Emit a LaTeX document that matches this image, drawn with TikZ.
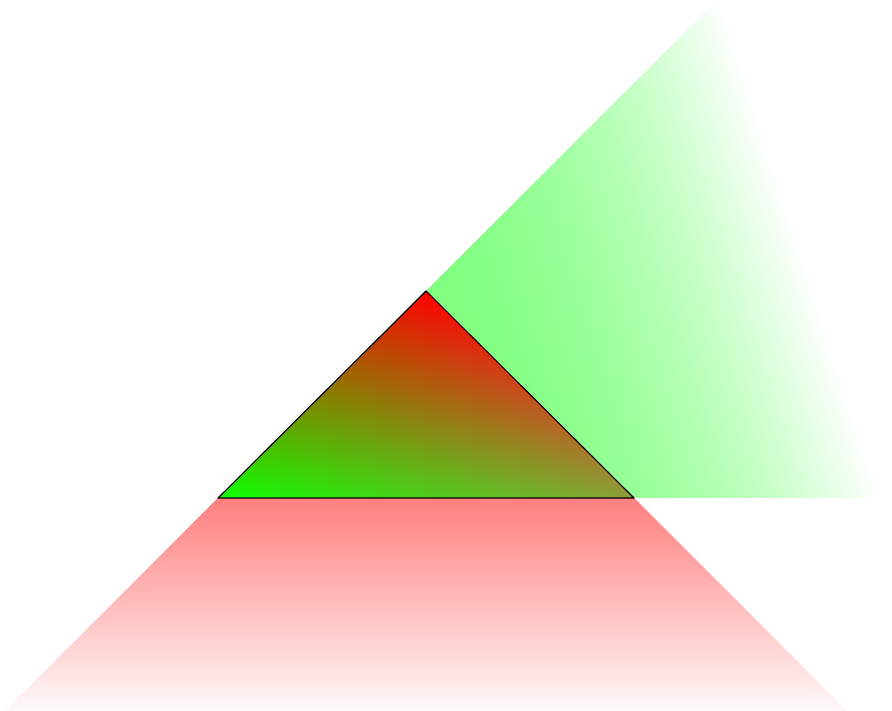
\documentclass[tikz,border=0pt]{standalone}
% triangle: barycentric colours A red, B green, C olive
\pgfdeclarefunctionalshading{trishade}{\pgfpointorigin}{\pgfpoint{892bp}{711bp}}{}{
  213 sub 207 div exch 218 sub 1 index 208 mul sub 416 div
  1 index 0.95 mul 1 index 0.5 mul add 0.05 add
  2 index neg 1 add 2 index 0.38 mul sub
  2 index 0.22 mul
  5 3 roll pop pop
}
% green wedge: fades to white towards the right
\pgfdeclarefunctionalshading{greenshade}{\pgfpointorigin}{\pgfpoint{892bp}{711bp}}{}{
  420 sub 0.32 mul exch 426 sub add 388 div
  dup 0 lt {pop 0} if dup 1 gt {pop 1} if
  1.7 exp 0.5 mul 0.5 add dup 1 exch
}
% red trapezoid: fades to white downwards
\pgfdeclarefunctionalshading{redshade}{\pgfpointorigin}{\pgfpoint{892bp}{711bp}}{}{
  exch pop 213 exch sub 223 div
  dup 0 lt {pop 0} if dup 1 gt {pop 1} if
  0.5 mul 0.5 add 1 exch dup
}
\tikzset{
  shadebox/.style={inner sep=0pt, outer sep=0pt, anchor=south west},
  edgeline/.style={draw=black, line width=1.1bp, line join=round}
}
\begin{document}
\begin{tikzpicture}[x=1bp,y=1bp]
\useasboundingbox (0,0) rectangle (892,711);
\coordinate (A) at (426,420);
\coordinate (B) at (218,213);
\coordinate (C) at (634,213);
\coordinate (G1) at (717,711);
\coordinate (G2) at (892,711);
\coordinate (G3) at (892,213);
\coordinate (R1) at (847,0);
\coordinate (R2) at (5,0);
% red trapezoid
\begin{scope}
  \clip (B) -- (C) -- (R1) -- (R2) -- cycle;
  \node[shadebox] (redfill) at (0,0) {\pgfuseshading{redshade}};
\end{scope}
% green wedge
\begin{scope}
  \clip (A) -- (G1) -- (G2) -- (G3) -- (C) -- cycle;
  \node[shadebox] (greenfill) at (0,0) {\pgfuseshading{greenshade}};
\end{scope}
% triangle
\begin{scope}
  \clip (A) -- (B) -- (C) -- cycle;
  \node[shadebox] (trifill) at (0,0) {\pgfuseshading{trishade}};
\end{scope}
\draw[edgeline] (A) -- (B) -- (C) -- cycle;
\end{tikzpicture}
\end{document}
